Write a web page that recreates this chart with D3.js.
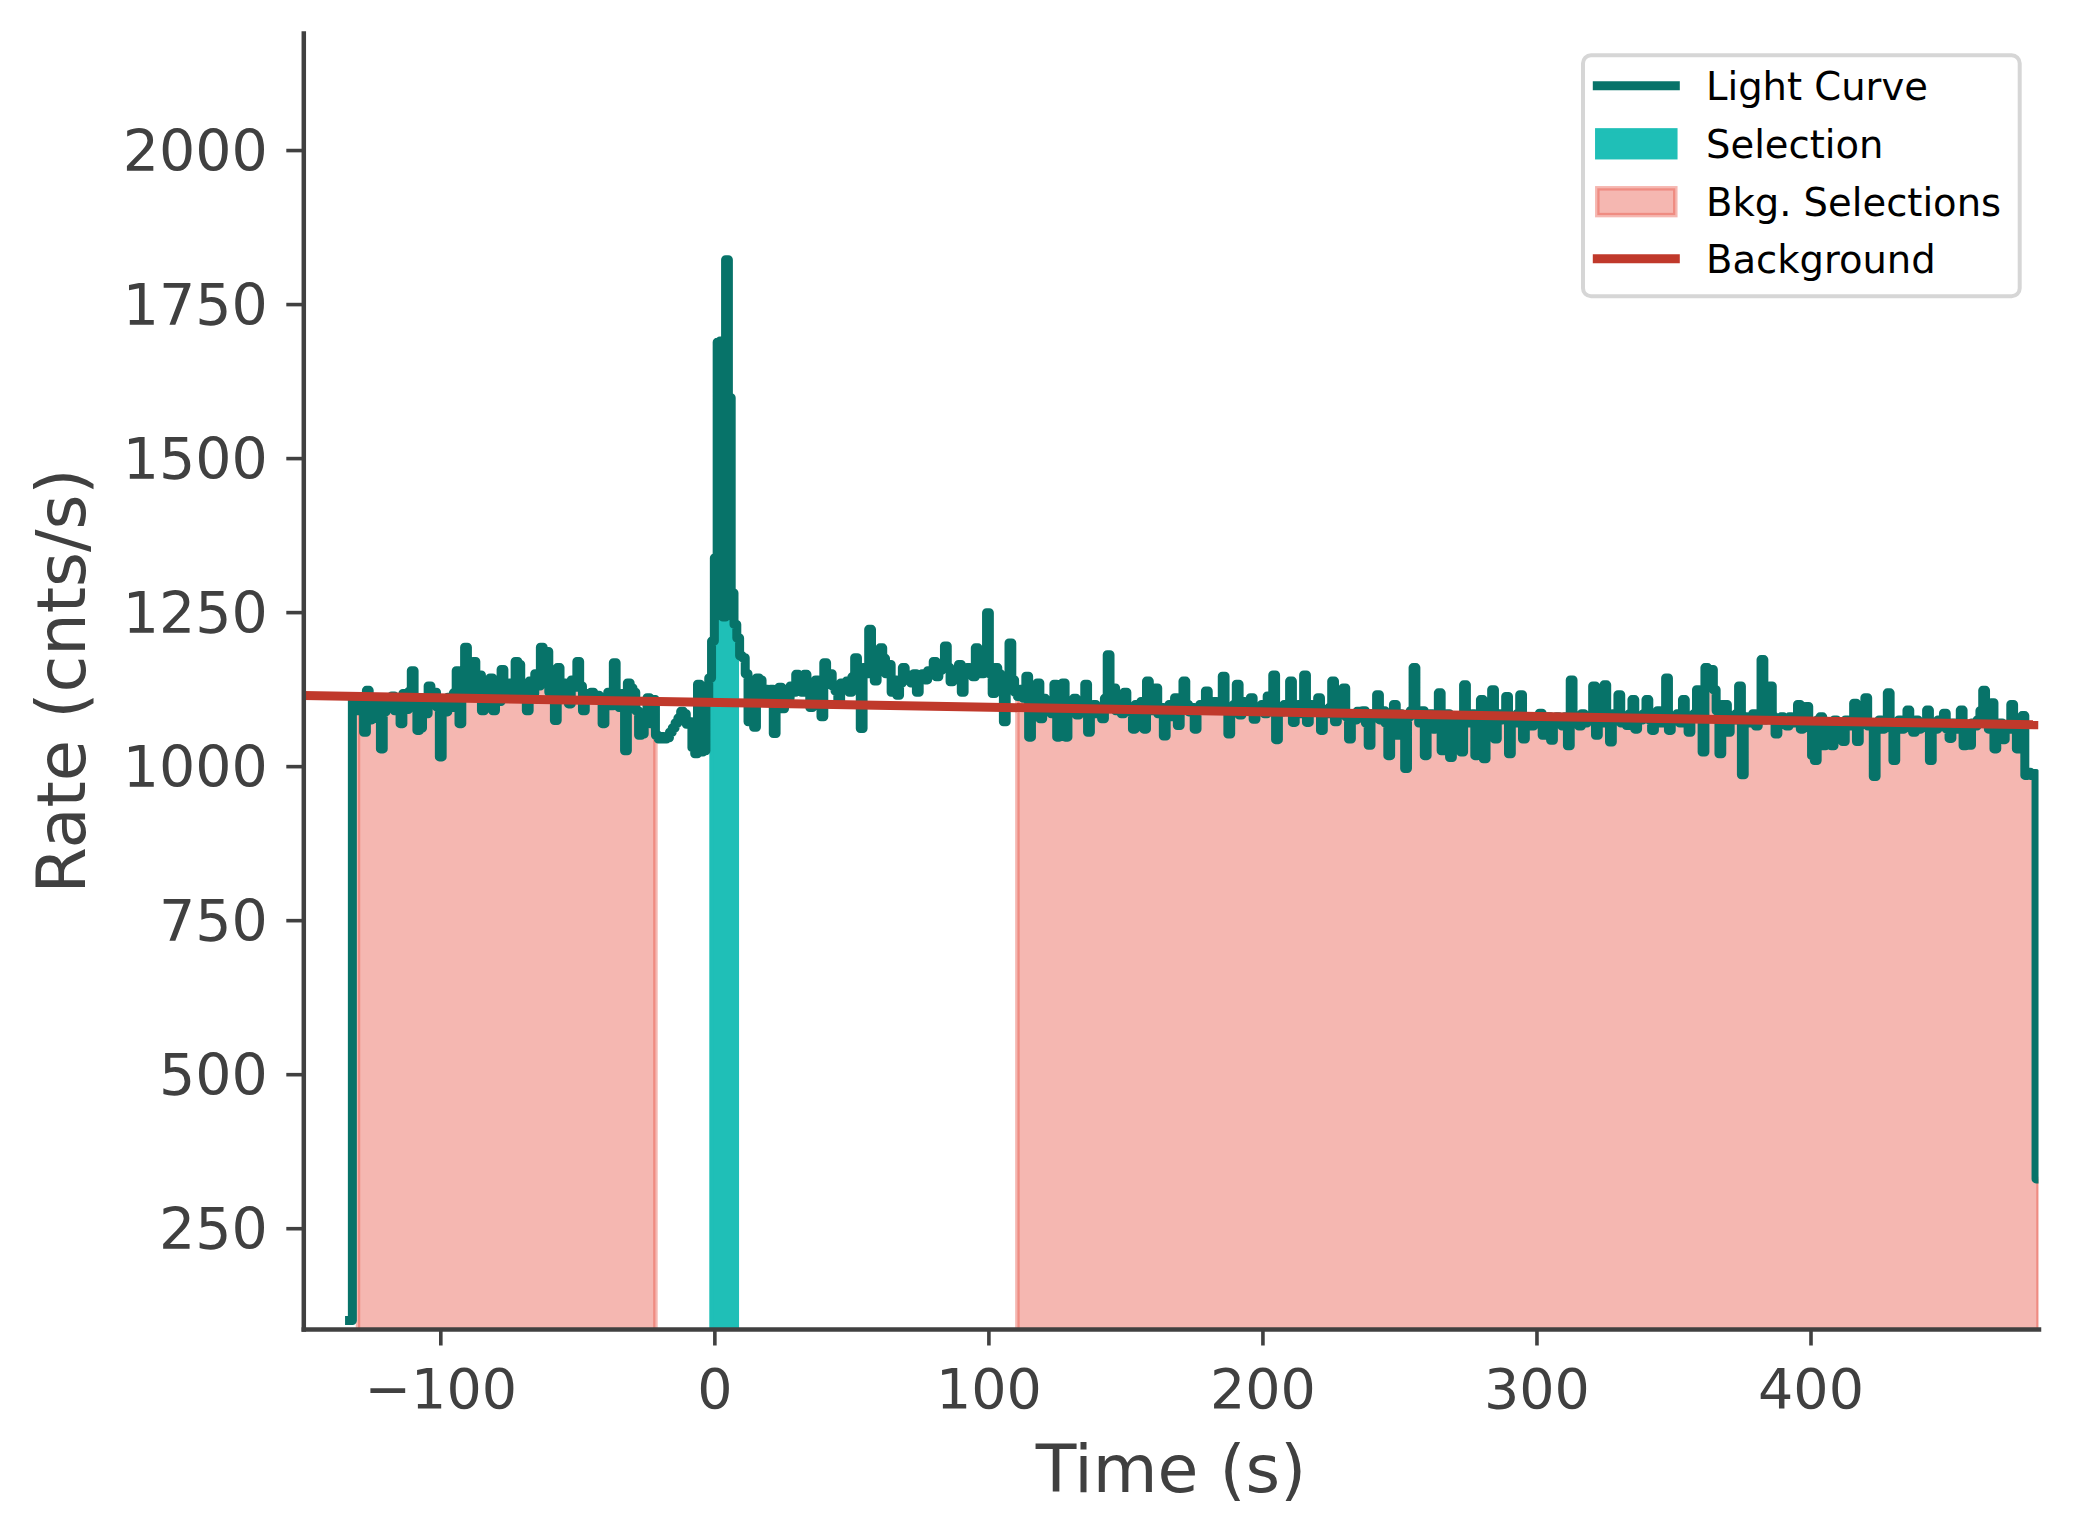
<!DOCTYPE html>
<html><head><meta charset="utf-8">
<script src="https://cdn.jsdelivr.net/npm/d3@7/dist/d3.min.js"></script>
<style>html,body{margin:0;padding:0;background:#fff;} svg{display:block;}</style>
</head><body>
<script>
// ---- data ----
const tStart = -133.12;      // start of the first bin (s)
const binWidth = 1.024;      // bin width (s)
const tEnd = 483.2;          // end of the last (partial) bin (s)
const rates = [
  100,
  1110,1104,1090,1098,1055,1123,1075,1096,1080,1102,   // k=-129
  1028,1088,1108,1095,1114,1090,1100,1069,1118,1092,   // k=-119
  1121,1155,1098,1058,1062,1110,1085,1130,1105,1120,   // k=-109
  1096,1015,1100,1088,1112,1095,1119,1155,1069,1130,   // k=-99
  1193,1120,1140,1170,1115,1148,1090,1125,1108,1143,   // k=-89
  1090,1120,1105,1157,1128,1112,1135,1120,1170,1165,   // k=-79
  1110,1125,1090,1138,1118,1150,1130,1193,1140,1186,   // k=-69
  1120,1150,1074,1160,1118,1135,1125,1101,1140,1128,   // k=-59
  1170,1130,1090,1118,1112,1120,1108,1115,1110,1069,   // k=-49
  1105,1120,1098,1168,1110,1095,1118,1025,1135,1127,   // k=-39
  1120,1090,1050,1052,1080,1111,1069,1108,1050,1044,   // k=-29
  1048,1044,1046,1055,1062,1070,1078,1089,1085,1068,   // k=-19
  1072,1030,1020,1133,1023,1025,1110,1143,1203,1338,   // k=-9
  1688,1690,1242,1822,1598,1281,1230,1208,1179,1176,   // k=1
  1150,1072,1110,1063,1143,1140,1105,1125,1118,1125,   // k=11
  1053,1100,1128,1093,1125,1110,1130,1120,1149,1128,   // k=21
  1120,1149,1130,1095,1125,1140,1118,1080,1168,1140,   // k=31
  1150,1130,1122,1100,1135,1125,1138,1120,1145,1176,   // k=41
  1150,1061,1160,1150,1222,1165,1138,1170,1192,1175,   // k=51
  1150,1165,1120,1140,1115,1135,1160,1140,1148,1135,   // k=61
  1150,1120,1142,1150,1140,1155,1148,1170,1145,1155,   // k=71
  1160,1195,1160,1137,1150,1145,1165,1120,1150,1160,   // k=81
  1155,1145,1192,1160,1150,1165,1249,1150,1118,1160,   // k=91
  1150,1140,1072,1130,1200,1140,1120,1113,1125,1110,   // k=101
  1146,1047,1100,1090,1135,1077,1110,1095,1105,1085,   // k=111
  1133,1047,1098,1135,1047,1090,1105,1110,1083,1100,   // k=121
  1095,1133,1055,1090,1100,1085,1095,1077,1110,1181,   // k=131
  1105,1127,1090,1100,1085,1120,1095,1088,1060,1100,   // k=141
  1092,1105,1060,1138,1090,1100,1127,1085,1095,1049,   // k=151
  1090,1100,1080,1111,1066,1095,1138,1100,1088,1095,   // k=161
  1060,1090,1100,1093,1122,1093,1100,1105,1098,1092,   // k=171
  1146,1095,1052,1090,1100,1133,1083,1105,1095,1100,   // k=181
  1111,1076,1095,1090,1100,1085,1114,1090,1148,1043,   // k=191
  1095,1088,1100,1090,1138,1071,1095,1100,1085,1148,   // k=201
  1071,1100,1090,1095,1111,1058,1092,1085,1095,1138,   // k=211
  1072,1090,1095,1127,1080,1044,1085,1075,1089,1080,   // k=221
  1090,1070,1034,1085,1080,1116,1075,1090,1070,1017,   // k=231
  1080,1100,1050,1085,1075,996,1080,1090,1160,1085,    // k=241
  1070,1090,1017,1075,1085,1060,1080,1119,1025,1070,   // k=251
  1085,1014,1075,1080,1060,1023,1132,1080,1070,1085,   // k=261
  1017,1075,1108,1012,1080,1070,1124,1044,1085,1075,   // k=271
  1080,1113,1020,1080,1070,1085,1116,1044,1075,1080,   // k=281
  1065,1080,1070,1086,1050,1075,1080,1042,1070,1080,   // k=291
  1075,1065,1080,1033,1140,1075,1080,1065,1085,1070,   // k=301
  1080,1075,1130,1050,1080,1070,1132,1075,1039,1085,   // k=311
  1075,1116,1070,1080,1066,1085,1108,1060,1080,1075,   // k=321
  1085,1108,1075,1058,1080,1090,1070,1085,1143,1058,   // k=331
  1080,1075,1085,1070,1108,1075,1055,1080,1085,1124,   // k=341
  1080,1023,1160,1157,1157,1124,1090,1020,1100,1100,   // k=351
  1055,1080,1075,1085,1130,986,1080,1070,1075,1085,    // k=361
  1065,1080,1173,1075,1085,1130,1080,1052,1075,1080,   // k=371
  1070,1065,1080,1075,1070,1100,1060,1075,1097,1070,   // k=381
  1017,1009,1075,1080,1033,1070,1065,1033,1075,1060,   // k=391
  1070,1040,1075,1065,1070,1102,1040,1075,1070,1111,   // k=401
  1065,1070,983,1070,1075,1060,1070,1119,1065,1009,    // k=411
  1070,1075,1060,1070,1091,1065,1055,1075,1060,1070,   // k=421
  1065,1091,1009,1070,1060,1075,1065,1086,1060,1045,   // k=431
  1070,1060,1065,1091,1033,1060,1034,1070,1065,1075,   // k=441
  1090,1123,1070,1060,1103,1028,1060,1070,1043,1065,   // k=451
  1060,1100,1070,1028,1060,1082,985,990,985,988,       // k=461
  330
];
const selection = [-1.024, 8.192];
const bkgSelections = [[-130.048, -21.504], [110.592, 483.2]];
const bkgModelTimes = [-150, 483.2];
const bkgModelRates = [1114.5, 1067];
const xTicks = [-100, 0, 100, 200, 300, 400];
const yTicks = [250, 500, 750, 1000, 1250, 1500, 1750, 2000];
const legendLabels = ["Light Curve", "Selection", "Bkg. Selections", "Background"];
const xDomain = [-150, 483.2];
const yDomain = [86.4, 2190];
const xLabel = "Time (s)";
const yLabel = "Rate (cnts/s)";

// ---- style ----
const W = 2074, H = 1540;
const M = {left: 303.3, right: 2038.5, top: 33, bottom: 1329};
const lcColor = "#077369", selColor = "#1fbfb7", bkgFill = "#e74c3c", bkgLineColor = "#c0392b";
const axisColor = "#404040";
const font = "'DejaVu Sans', 'Liberation Sans', sans-serif";

const x = d3.scaleLinear().domain(xDomain).range([M.left, M.right]);
const y = d3.scaleLinear().domain(yDomain).range([M.bottom, M.top]);

const bins = rates.map((v, i) => ({
  t0: tStart + i * binWidth,
  t1: Math.min(tStart + (i + 1) * binWidth, tEnd),
  v
}));
function stepPoints(bs) {
  const pts = bs.map(b => [b.t0, b.v]);
  const last = bs[bs.length - 1];
  pts.push([last.t1, last.v]);
  return pts;
}
const eps = 1e-6;
function binsIn(a, b) { return bins.filter(d => d.t0 >= a - eps && d.t1 <= b + eps); }

const svg = d3.select("body").append("svg").attr("width", W).attr("height", H)
  .style("background", "#fff");
svg.append("rect").attr("width", W).attr("height", H).attr("fill", "#fff");

svg.append("defs").append("clipPath").attr("id", "clip")
  .append("rect").attr("x", M.left).attr("y", M.top)
  .attr("width", M.right - M.left).attr("height", M.bottom - M.top);

const plot = svg.append("g").attr("clip-path", "url(#clip)");

const area = d3.area().curve(d3.curveStepAfter)
  .x(d => x(d[0])).y0(y(yDomain[0]) + 30).y1(d => y(d[1]));

// background selections
bkgSelections.forEach(s => {
  plot.append("path").attr("d", area(stepPoints(binsIn(s[0], s[1]))))
    .attr("fill", bkgFill).attr("fill-opacity", 0.4)
    .attr("stroke", bkgFill).attr("stroke-opacity", 0.4).attr("stroke-width", 4.5);
});
// source selection
plot.append("path").attr("d", area(stepPoints(binsIn(selection[0], selection[1]))))
  .attr("fill", selColor).attr("stroke", selColor).attr("stroke-width", 4.5);

// light curve
const line = d3.line().curve(d3.curveStepAfter).x(d => x(d[0])).y(d => y(d[1]));
plot.append("path").attr("d", line(stepPoints(bins)))
  .attr("fill", "none").attr("stroke", lcColor).attr("stroke-width", 9)
  .attr("stroke-linejoin", "round").attr("stroke-linecap", "square");

// background model
plot.append("path")
  .attr("d", d3.line().x(d => x(d[0])).y(d => y(d[1]))(bkgModelTimes.map((t, i) => [t, bkgModelRates[i]])))
  .attr("fill", "none").attr("stroke", bkgLineColor).attr("stroke-width", 9);

// axes
const fmt = d => d < 0 ? "\u2212" + Math.abs(d) : String(d);
const gx = svg.append("g").attr("transform", `translate(0,${M.bottom})`)
  .call(d3.axisBottom(x).tickValues(xTicks).tickFormat(fmt).tickSize(16.5).tickSizeOuter(0));
const gy = svg.append("g").attr("transform", `translate(${M.left},0)`)
  .call(d3.axisLeft(y).tickValues(yTicks).tickFormat(fmt).tickSize(17).tickSizeOuter(0));

[gx, gy].forEach(g => {
  g.select(".domain").attr("stroke", axisColor).attr("stroke-width", 4.5).attr("stroke-linecap", "square");
  g.selectAll(".tick line").attr("stroke", axisColor).attr("stroke-width", 3.6);
  g.selectAll(".tick text").attr("fill", axisColor).style("font-family", font).style("font-size", "55.5px");
});
gy.selectAll(".tick text").style("font-size", "57px");
gx.selectAll(".tick text").attr("y", 79).attr("dy", null);
gy.selectAll(".tick text").attr("x", -35.5).attr("y", 20.5).attr("dy", null);
gx.attr("font-size", null).attr("font-family", null);
gy.attr("font-size", null).attr("font-family", null);

// axis labels
svg.append("text").attr("x", (M.left + M.right) / 2).attr("y", 1491.5)
  .attr("text-anchor", "middle").attr("fill", axisColor)
  .style("font-family", font).style("font-size", "66.5px").text(xLabel);
svg.append("text").attr("transform", `translate(85,${(M.top + M.bottom) / 2}) rotate(-90)`)
  .attr("text-anchor", "middle").attr("fill", axisColor)
  .style("font-family", font).style("font-size", "67px").text(yLabel);

// legend
const lg = svg.append("g");
lg.append("rect").attr("x", 1583).attr("y", 55.3).attr("width", 436.7).attr("height", 241)
  .attr("rx", 8).attr("fill", "#fff").attr("fill-opacity", 0.8)
  .attr("stroke", "#d6d6d6").attr("stroke-width", 4);
const rowY = [85.7, 143.8, 201.7, 258.7];
const hx0 = 1597.3, hx1 = 1675.3;
legendLabels.forEach((lab, i) => {
  const cy = rowY[i];
  if (i === 0 || i === 3) {
    lg.append("line").attr("x1", hx0).attr("x2", hx1).attr("y1", cy).attr("y2", cy)
      .attr("stroke", i === 0 ? lcColor : bkgLineColor).attr("stroke-width", 9)
      .attr("stroke-linecap", "square");
  } else if (i === 1) {
    lg.append("rect").attr("x", hx0).attr("y", cy - 13.4).attr("width", hx1 - hx0).attr("height", 26.8)
      .attr("fill", selColor).attr("stroke", selColor).attr("stroke-width", 4.5);
  } else {
    lg.append("rect").attr("x", hx0).attr("y", cy - 13.4).attr("width", hx1 - hx0).attr("height", 26.8)
      .attr("fill", bkgFill).attr("fill-opacity", 0.4)
      .attr("stroke", bkgFill).attr("stroke-opacity", 0.4).attr("stroke-width", 4.5);
  }
  lg.append("text").attr("x", 1706).attr("y", cy + 14.6).attr("fill", "#000")
    .style("font-family", font).style("font-size", "38.5px").text(lab);
});
</script>
</body></html>
